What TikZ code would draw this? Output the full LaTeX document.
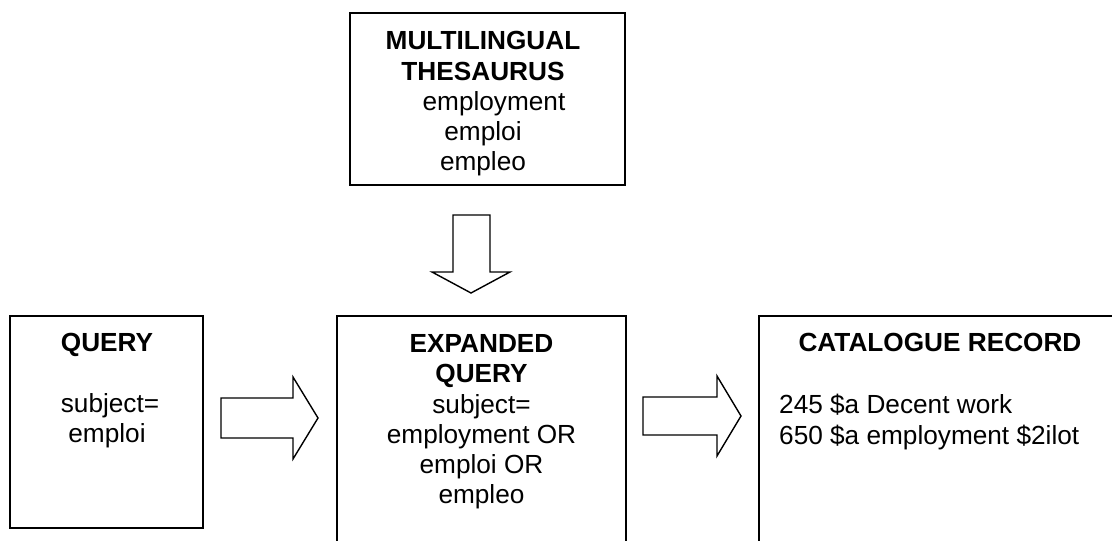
\documentclass[tikz,border=0pt]{standalone}
\usepackage{fontspec}
\setmainfont{Liberation Sans}
\begin{document}
\begin{tikzpicture}[x=1pt,y=-1pt,
  boxframe/.style={draw=black,line width=1.7pt,fill=white},
  blockarrow/.style={draw=black,line width=1.4pt,fill=white,line join=miter},
  txt/.style={inner sep=0pt,align=center,font=\fontsize{26.2}{30.2}\selectfont},
  txtl/.style={inner sep=0pt,align=left,font=\fontsize{26.2}{31}\selectfont}]
\useasboundingbox (0,0) rectangle (1112,541);
\clip (0,0) rectangle (1112,541);
\fill[white] (0,0) rectangle (1112,541);
% boxes
\draw[boxframe] (350,13) rectangle (625,185);
\draw[boxframe] (10,316) rectangle (203,528);
\draw[boxframe] (337,316) rectangle (626,570);
\draw[boxframe] (759,316) rectangle (1130,570);
% texts
\node[txt,anchor=north] (thestext) at (483,31.5)
  {\textbf{MULTILINGUAL}\\\textbf{THESAURUS}\\\hspace*{22pt}employment\\emploi\\empleo};
\node[txt,anchor=north] (querytext) at (107,333.5)
  {\textbf{QUERY}\\[30.2pt]\hspace*{6pt}subject=\\emploi};
\node[txt,anchor=north] (exptext) at (481.5,334.5)
  {\textbf{EXPANDED}\\\textbf{QUERY}\\subject=\\employment OR\\emploi OR\\empleo};
\node[txt,anchor=north] (cattitle) at (940,333.5) {\textbf{CATALOGUE RECORD}};
\node[txtl,anchor=north west] (cattext) at (779,394)
  {245 \$a Decent work\\650 \$a employment \$2ilot};
% block arrows
\draw[blockarrow] (453,215) -- (490,215) -- (490,272) -- (510,272) -- (471,293)
  -- (432,272) -- (453,272) -- cycle;
\draw[blockarrow] (221,398) -- (293,398) -- (293,377) -- (318,418) -- (293,459)
  -- (293,438) -- (221,438) -- cycle;
\draw[blockarrow] (643,397) -- (717,397) -- (717,376) -- (741,416) -- (717,456)
  -- (717,435) -- (643,435) -- cycle;
\end{tikzpicture}
\end{document}
